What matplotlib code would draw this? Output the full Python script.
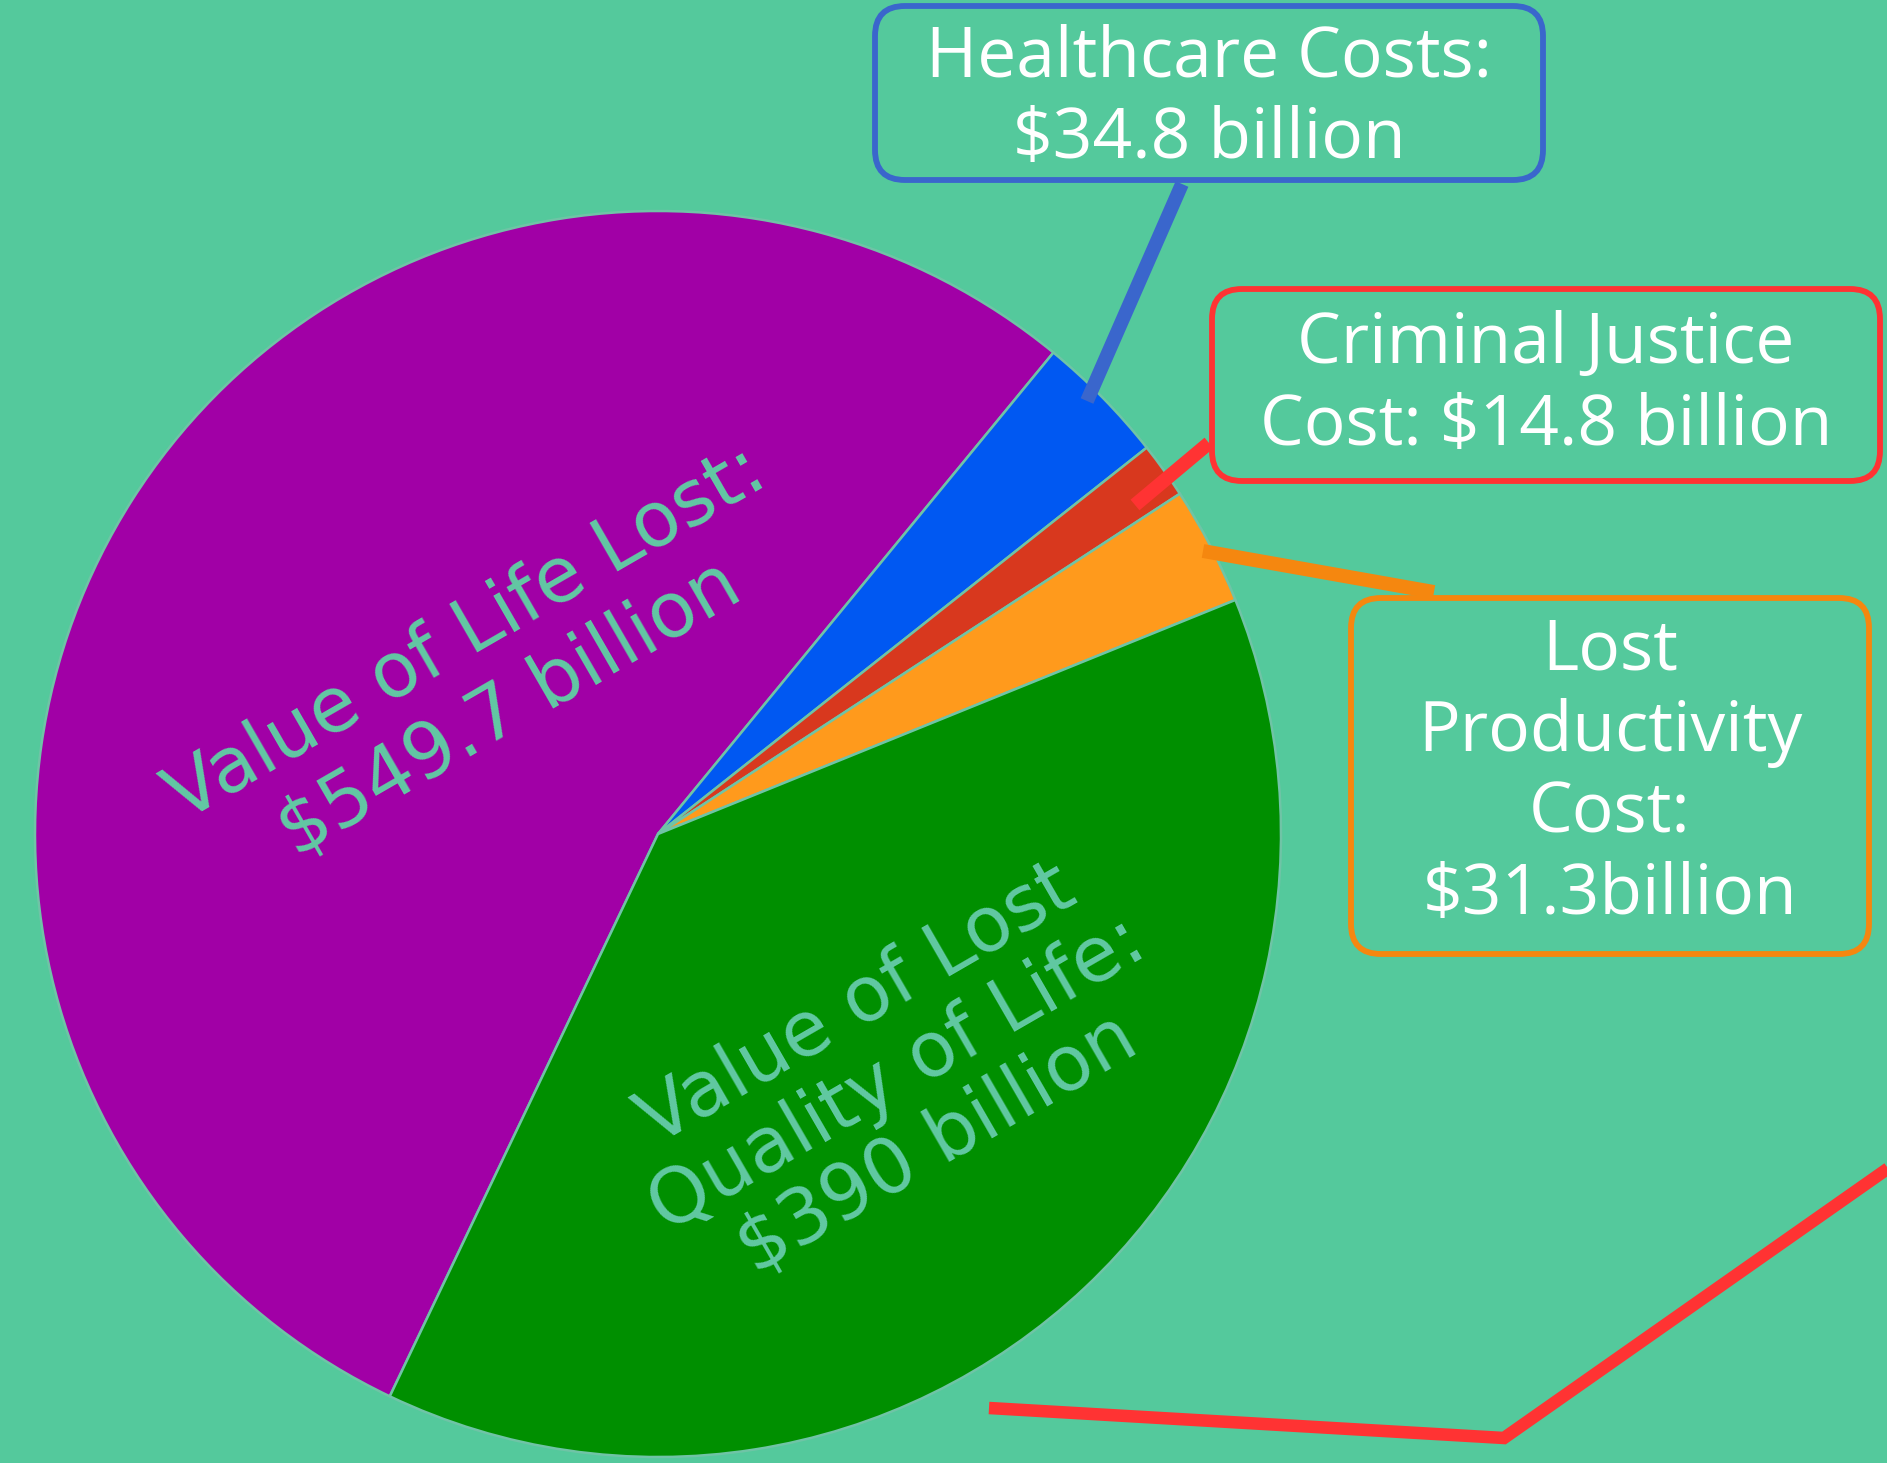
import matplotlib
matplotlib.use("Agg")
import matplotlib.pyplot as plt
from matplotlib.patches import FancyBboxPatch

# ---- data ----
categories = ["Value of Life Lost", "Healthcare Costs", "Criminal Justice Cost",
              "Lost Productivity Cost", "Value of Lost Quality of Life"]
values = [549.7, 34.8, 14.8, 31.3, 390.0]
colors = ["#A100A6", "#0058F2", "#D8381E", "#FF9A1C", "#008F00"]
inner_labels = {0: "Value of Life Lost:\n$549.7 billion",
                4: "Value of Lost\nQuality of Life:\n$390 billion"}
box_labels = {1: "Healthcare Costs:\n$34.8 billion",
              2: "Criminal Justice\nCost: $14.8 billion",
              3: "Lost\nProductivity\nCost:\n$31.3billion"}
box_colors = {1: "#3A66CC", 2: "#FF3333", 3: "#F5870F"}

W, H = 1887, 1463
BG = "#54C99C"

fig = plt.figure(figsize=(W / 100, H / 100), dpi=100)
fig.patch.set_facecolor(BG)
ax = fig.add_axes([0, 0, 1, 1])
ax.set_facecolor(BG)

def Y(y):
    return H - y

cx, cy, r = 658, 834, 623
ax.pie(values, colors=colors, startangle=244.5, counterclock=False,
       center=(cx, Y(cy)), radius=r,
       wedgeprops=dict(edgecolor="#6FC4A6", linewidth=1.8))

ax.set_xlim(0, W)
ax.set_ylim(0, H)
ax.set_aspect("equal")
ax.axis("off")

# inner rotated labels
txtcol = "#62C9A3"
ax.text(488, Y(672), inner_labels[0], rotation=30, rotation_mode="anchor",
        ha="center", va="center", fontsize=55, color=txtcol,
        family="DejaVu Sans", linespacing=1.2)
ax.text(897, Y(1075), inner_labels[4], rotation=30, rotation_mode="anchor",
        ha="center", va="center", fontsize=55, color=txtcol,
        family="DejaVu Sans", linespacing=1.1)

# connector lines
lw = 10
ax.plot([1182, 1087], [Y(184), Y(401)], color=box_colors[1], lw=lw,
        solid_capstyle="butt", zorder=3)
ax.plot([1209, 1135], [Y(443), Y(505)], color=box_colors[2], lw=lw,
        solid_capstyle="butt", zorder=3)
ax.plot([1203, 1434], [Y(551), Y(592)], color=box_colors[3], lw=lw,
        solid_capstyle="butt", zorder=3)
ax.plot([989, 1504, 1900], [Y(1408), Y(1438), Y(1160)], color="#FF3333",
        lw=9, solid_joinstyle="miter", solid_capstyle="butt", zorder=3)

# boxes
boxes = {1: (875, 6, 1543, 180), 2: (1212, 289, 1880, 481),
         3: (1351, 598, 1869, 954)}
text_dy = {1: 6, 2: 1, 3: -2}
for k, (x0, y0, x1, y1) in boxes.items():
    p = FancyBboxPatch((x0, Y(y1)), x1 - x0, y1 - y0,
                       boxstyle="round,pad=0,rounding_size=30",
                       facecolor=BG, edgecolor=box_colors[k], linewidth=4.2,
                       zorder=4)
    ax.add_patch(p)
    ax.text((x0 + x1) / 2, Y((y0 + y1) / 2 + text_dy[k]), box_labels[k],
            ha="center", va="center", fontsize=50, color="white",
            family="Open Sans", linespacing=1.22, zorder=5)

fig.savefig("out.png", dpi=100, facecolor=BG)
